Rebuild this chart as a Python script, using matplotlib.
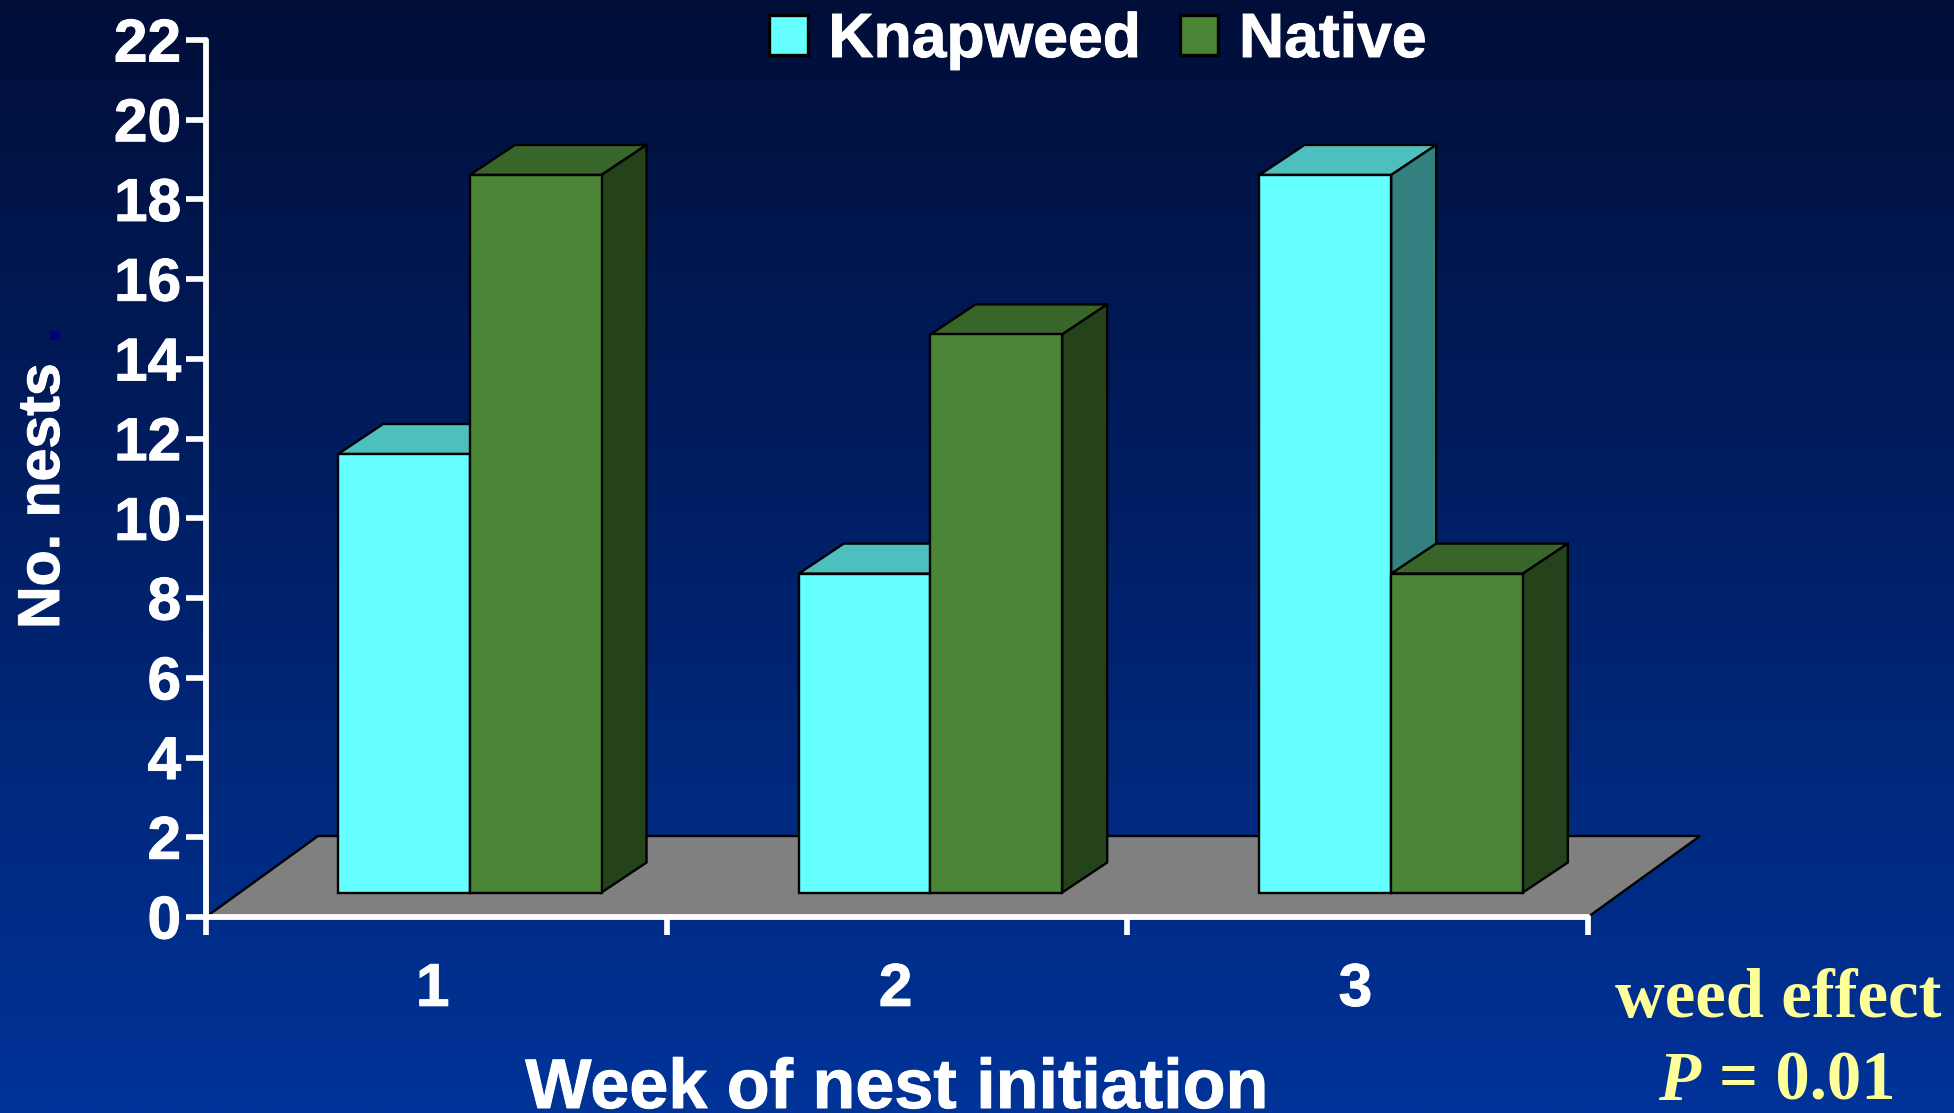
import matplotlib
matplotlib.use("Agg")
import matplotlib.pyplot as plt
import matplotlib.patheffects as pe
import numpy as np
from matplotlib.patches import Polygon, Patch
from matplotlib.colors import LinearSegmentedColormap

plt.rcParams['font.family'] = ['Liberation Sans', 'DejaVu Sans']
plt.rcParams['font.weight'] = 'bold'

weeks = ['1', '2', '3']
knapweed = [11, 8, 18]
native = [18, 14, 8]
y_ticks = list(range(0, 23, 2))

W, H = 1954, 1113
fig = plt.figure(figsize=(W / 100, H / 100), dpi=100)

# background gradient
bg = fig.add_axes([0, 0, 1, 1], zorder=0)
cmap = LinearSegmentedColormap.from_list('bg', ['#000e38', '#003399'])
bg.imshow(np.linspace(0, 1, 512).reshape(-1, 1), aspect='auto', cmap=cmap)
bg.axis('off')

ax = fig.add_axes([206 / W, (H - 917) / H, 1382 / W, 877 / H], zorder=1)
ax.patch.set_alpha(0)
ax.set_xlim(0, 3)
ax.set_ylim(0, 22)

# fake 3d sizes, in data units
px_x = 3 / 1382
px_y = 22 / 877
bar_w = 131.7 * px_x
dep_x, dep_y = 45 * px_x, 30 * px_y
base_x, base_y = 33.5 * px_x, 24.5 * px_y
floor_x, floor_y = 112 * px_x, 81 * px_y
edge = dict(edgecolor='black', linewidth=1.7, joinstyle='miter', clip_on=False)
bold = [pe.withStroke(linewidth=0.7, foreground='white')]


def box(x0, h, face, top, side, z):
    y0 = base_y
    y1 = base_y + h
    x1 = x0 + bar_w
    ax.add_patch(Polygon([(x0, y0), (x1, y0), (x1, y1), (x0, y1)], facecolor=face, zorder=z + 0.2, **edge))
    ax.add_patch(Polygon([(x0, y1), (x1, y1), (x1 + dep_x, y1 + dep_y), (x0 + dep_x, y1 + dep_y)],
                         facecolor=top, zorder=z, **edge))
    ax.add_patch(Polygon([(x1, y0), (x1 + dep_x, y0 + dep_y), (x1 + dep_x, y1 + dep_y), (x1, y1)],
                         facecolor=side, zorder=z + 0.1, **edge))


# floor
ax.add_patch(Polygon([(0, 0), (3, 0), (3 + floor_x, floor_y), (floor_x, floor_y)],
                     facecolor='#808080', zorder=1, **edge))

for i in range(len(weeks)):
    center = i + 0.5 + base_x
    box(center - bar_w, knapweed[i], '#66ffff', '#4dbfbf', '#338080', 2 + i)
    box(center, native[i], '#4a8636', '#386529', '#25431b', 2.5 + i)

# axes
for s in ['top', 'right']:
    ax.spines[s].set_visible(False)
for s in ['left', 'bottom']:
    ax.spines[s].set_color('white')
    ax.spines[s].set_linewidth(4.2)
    ax.spines[s].set_zorder(20)
    ax.spines[s].set_capstyle('round')

ax.set_yticks(y_ticks)
ax.set_xticks([0, 1, 2, 3])
ax.set_xticklabels([])
ax.set_xticks([0.492, 1.497, 2.495], minor=True)
ax.set_xticklabels(weeks, minor=True)
ax.tick_params(axis='y', length=14.4, width=4.1, color='white', labelcolor='white', labelsize=43.5, pad=3.5)
ax.tick_params(axis='x', which='major', length=13, width=4.1, color='white')
ax.tick_params(axis='x', which='minor', length=0, labelcolor='white', labelsize=43.5, pad=33)
for t in ax.xaxis.get_majorticklines() + ax.yaxis.get_majorticklines():
    t.set_solid_capstyle('round')
    t.set_zorder(20)
for t in ax.get_yticklabels() + ax.get_xticklabels(minor=True):
    t.set_path_effects(bold)

fig.text(897 / W, (H - 1108) / H, 'Week of nest initiation', color='white', fontsize=50.5,
         ha='center', va='baseline', path_effects=bold)
fig.text(59 / W, (H - 629) / H, 'No. nests', color='white', fontsize=42.5, rotation=90,
         rotation_mode='anchor', ha='left', va='baseline', path_effects=bold)
fig.text(59 / W, (H - 343) / H, '.', color='#000080', fontsize=42.5, rotation=90,
         rotation_mode='anchor', ha='left', va='baseline',
         path_effects=[pe.withStroke(linewidth=0.7, foreground='#000080')])

# legend
handles = [Patch(facecolor='#66ffff', edgecolor='black', linewidth=2.4),
           Patch(facecolor='#4a8636', edgecolor='black', linewidth=2.4)]
leg = fig.legend(handles, ['Knapweed', 'Native'], ncol=2, frameon=False, loc='upper left',
                 bbox_to_anchor=(769 / W, (H - 11) / H), borderpad=0, borderaxespad=0,
                 fontsize=45, labelcolor='white', handlelength=0.62, handleheight=0.6,
                 handletextpad=0.33, columnspacing=0.62)
for t in leg.get_texts():
    t.set_path_effects(bold)

# stats note
serif = ['Liberation Serif', 'DejaVu Serif']
fig.text(1778 / W, (H - 1017) / H, 'weed effect', color='#ffff99', fontsize=49.5,
         family=serif, ha='center', va='baseline')
fig.text(1700 / W, (H - 1100) / H, 'P', color='#ffff99', fontsize=49.5, family=serif,
         style='italic', ha='right', va='baseline')
fig.text(1719 / W, (H - 1100) / H, '= 0.01', color='#ffff99', fontsize=49.5, family=serif,
         ha='left', va='baseline')

fig.savefig('out.png', dpi=100)
